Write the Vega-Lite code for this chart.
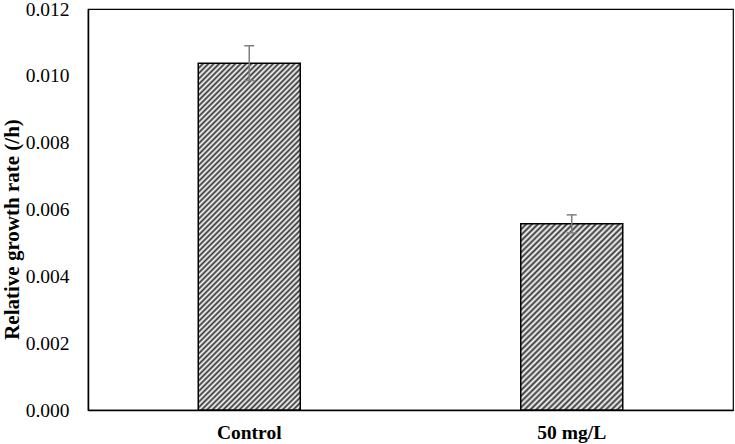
{
  "$schema": "https://vega.github.io/schema/vega-lite/v6.json",
  "width": 645,
  "height": 401,
  "autosize": {"type": "none"},
  "padding": {"left": 88, "top": 9, "right": 2, "bottom": 34},
  "background": "#ffffff",
  "config": {"view": {"stroke": "#000000", "strokeWidth": 1.2}, "font": "Liberation Serif"},
  "data": {"values": [
    {"group": "Control", "rate": 0.01038, "lower": 0.00986, "upper": 0.0109},
    {"group": "50 mg/L", "rate": 0.00557, "lower": 0.0053, "upper": 0.00584}
  ]},
  "encoding": {
    "x": {"field": "group", "type": "nominal", "sort": ["Control", "50 mg/L"],
      "scale": {"paddingInner": 0, "paddingOuter": 0},
      "axis": {"title": null, "labelAngle": 0, "labelFont": "Liberation Serif", "labelFontSize": 19.5, "labelFontWeight": "bold", "labelColor": "#000000", "labelPadding": 13, "ticks": false, "domainColor": "#000000", "domainWidth": 1.5}}
  },
  "layer": [
    {
      "transform": [{"filter": "datum.group === 'Control'"}],
      "mark": {"type": "bar", "size": 102, "stroke": "#000000", "strokeWidth": 1.5,
        "fill": {"gradient": "linear", "x1": 0, "y1": 0, "x2": 0.35, "y2": 1.191, "stops": [
{"offset":0,"color":"#333"},{"offset":0.006,"color":"#fff"},{"offset":0.012,"color":"#333"},{"offset":0.018,"color":"#fff"},{"offset":0.024,"color":"#333"},{"offset":0.03,"color":"#fff"},{"offset":0.036,"color":"#333"},{"offset":0.042,"color":"#fff"},{"offset":0.048,"color":"#333"},{"offset":0.054,"color":"#fff"},
{"offset":0.06,"color":"#333"},{"offset":0.066,"color":"#fff"},{"offset":0.072,"color":"#333"},{"offset":0.078,"color":"#fff"},{"offset":0.084,"color":"#333"},{"offset":0.09,"color":"#fff"},{"offset":0.096,"color":"#333"},{"offset":0.102,"color":"#fff"},{"offset":0.108,"color":"#333"},{"offset":0.114,"color":"#fff"},
{"offset":0.12,"color":"#333"},{"offset":0.126,"color":"#fff"},{"offset":0.132,"color":"#333"},{"offset":0.138,"color":"#fff"},{"offset":0.144,"color":"#333"},{"offset":0.15,"color":"#fff"},{"offset":0.156,"color":"#333"},{"offset":0.162,"color":"#fff"},{"offset":0.168,"color":"#333"},{"offset":0.174,"color":"#fff"},
{"offset":0.18,"color":"#333"},{"offset":0.186,"color":"#fff"},{"offset":0.192,"color":"#333"},{"offset":0.198,"color":"#fff"},{"offset":0.204,"color":"#333"},{"offset":0.21,"color":"#fff"},{"offset":0.216,"color":"#333"},{"offset":0.222,"color":"#fff"},{"offset":0.228,"color":"#333"},{"offset":0.234,"color":"#fff"},
{"offset":0.24,"color":"#333"},{"offset":0.246,"color":"#fff"},{"offset":0.252,"color":"#333"},{"offset":0.258,"color":"#fff"},{"offset":0.264,"color":"#333"},{"offset":0.27,"color":"#fff"},{"offset":0.276,"color":"#333"},{"offset":0.282,"color":"#fff"},{"offset":0.288,"color":"#333"},{"offset":0.294,"color":"#fff"},
{"offset":0.3,"color":"#333"},{"offset":0.306,"color":"#fff"},{"offset":0.312,"color":"#333"},{"offset":0.318,"color":"#fff"},{"offset":0.324,"color":"#333"},{"offset":0.33,"color":"#fff"},{"offset":0.336,"color":"#333"},{"offset":0.342,"color":"#fff"},{"offset":0.348,"color":"#333"},{"offset":0.354,"color":"#fff"},
{"offset":0.36,"color":"#333"},{"offset":0.366,"color":"#fff"},{"offset":0.372,"color":"#333"},{"offset":0.378,"color":"#fff"},{"offset":0.384,"color":"#333"},{"offset":0.39,"color":"#fff"},{"offset":0.396,"color":"#333"},{"offset":0.402,"color":"#fff"},{"offset":0.408,"color":"#333"},{"offset":0.414,"color":"#fff"},
{"offset":0.42,"color":"#333"},{"offset":0.426,"color":"#fff"},{"offset":0.432,"color":"#333"},{"offset":0.438,"color":"#fff"},{"offset":0.444,"color":"#333"},{"offset":0.45,"color":"#fff"},{"offset":0.456,"color":"#333"},{"offset":0.462,"color":"#fff"},{"offset":0.468,"color":"#333"},{"offset":0.474,"color":"#fff"},
{"offset":0.48,"color":"#333"},{"offset":0.486,"color":"#fff"},{"offset":0.492,"color":"#333"},{"offset":0.498,"color":"#fff"},{"offset":0.504,"color":"#333"},{"offset":0.51,"color":"#fff"},{"offset":0.516,"color":"#333"},{"offset":0.522,"color":"#fff"},{"offset":0.528,"color":"#333"},{"offset":0.534,"color":"#fff"},
{"offset":0.54,"color":"#333"},{"offset":0.546,"color":"#fff"},{"offset":0.552,"color":"#333"},{"offset":0.558,"color":"#fff"},{"offset":0.564,"color":"#333"},{"offset":0.57,"color":"#fff"},{"offset":0.576,"color":"#333"},{"offset":0.582,"color":"#fff"},{"offset":0.588,"color":"#333"},{"offset":0.594,"color":"#fff"},
{"offset":0.6,"color":"#333"},{"offset":0.606,"color":"#fff"},{"offset":0.612,"color":"#333"},{"offset":0.618,"color":"#fff"},{"offset":0.624,"color":"#333"},{"offset":0.63,"color":"#fff"},{"offset":0.636,"color":"#333"},{"offset":0.642,"color":"#fff"},{"offset":0.648,"color":"#333"},{"offset":0.654,"color":"#fff"},
{"offset":0.66,"color":"#333"},{"offset":0.666,"color":"#fff"},{"offset":0.672,"color":"#333"},{"offset":0.678,"color":"#fff"},{"offset":0.684,"color":"#333"},{"offset":0.69,"color":"#fff"},{"offset":0.696,"color":"#333"},{"offset":0.702,"color":"#fff"},{"offset":0.708,"color":"#333"},{"offset":0.714,"color":"#fff"},
{"offset":0.72,"color":"#333"},{"offset":0.726,"color":"#fff"},{"offset":0.732,"color":"#333"},{"offset":0.738,"color":"#fff"},{"offset":0.744,"color":"#333"},{"offset":0.75,"color":"#fff"},{"offset":0.756,"color":"#333"},{"offset":0.762,"color":"#fff"},{"offset":0.768,"color":"#333"},{"offset":0.774,"color":"#fff"},
{"offset":0.78,"color":"#333"},{"offset":0.786,"color":"#fff"},{"offset":0.792,"color":"#333"},{"offset":0.798,"color":"#fff"},{"offset":0.804,"color":"#333"},{"offset":0.81,"color":"#fff"},{"offset":0.816,"color":"#333"},{"offset":0.822,"color":"#fff"},{"offset":0.828,"color":"#333"},{"offset":0.834,"color":"#fff"},
{"offset":0.84,"color":"#333"},{"offset":0.846,"color":"#fff"},{"offset":0.852,"color":"#333"},{"offset":0.858,"color":"#fff"},{"offset":0.864,"color":"#333"},{"offset":0.87,"color":"#fff"},{"offset":0.876,"color":"#333"},{"offset":0.882,"color":"#fff"},{"offset":0.888,"color":"#333"},{"offset":0.894,"color":"#fff"},
{"offset":0.9,"color":"#333"},{"offset":0.906,"color":"#fff"},{"offset":0.912,"color":"#333"},{"offset":0.918,"color":"#fff"},{"offset":0.924,"color":"#333"},{"offset":0.93,"color":"#fff"},{"offset":0.936,"color":"#333"},{"offset":0.942,"color":"#fff"},{"offset":0.948,"color":"#333"},{"offset":0.954,"color":"#fff"},
{"offset":0.96,"color":"#333"},{"offset":0.966,"color":"#fff"},{"offset":0.972,"color":"#333"},{"offset":0.978,"color":"#fff"},{"offset":0.984,"color":"#333"},{"offset":0.99,"color":"#fff"},{"offset":0.996,"color":"#333"},{"offset":1,"color":"#fff"}
        ]}},
      "encoding": {
        "y": {"field": "rate", "type": "quantitative", "scale": {"domain": [0, 0.012]},
          "axis": {"title": "Relative growth rate (/h)", "values": [0, 0.002, 0.004, 0.006, 0.008, 0.01, 0.012], "format": ".3f", "grid": false, "ticks": false,
            "labelFont": "Liberation Serif", "labelFontSize": 19.5, "labelColor": "#000000", "labelPadding": 19,
            "domainColor": "#000000", "domainWidth": 1.5,
            "titleFont": "Liberation Serif", "titleFontSize": 21, "titleFontWeight": "bold", "titleColor": "#000000",
            "titleX": -76, "titleY": 220, "titleAngle": 270, "titleAlign": "center", "titleBaseline": "middle"}}
      }
    },
    {
      "transform": [{"filter": "datum.group === '50 mg/L'"}],
      "mark": {"type": "bar", "size": 102, "stroke": "#000000", "strokeWidth": 1.5,
        "fill": {"gradient": "linear", "x1": 0, "y1": 0, "x2": 0.647, "y2": 1.192, "stops": [
{"offset":0,"color":"#333"},{"offset":0.01,"color":"#fff"},{"offset":0.02,"color":"#333"},{"offset":0.03,"color":"#fff"},{"offset":0.04,"color":"#333"},{"offset":0.05,"color":"#fff"},{"offset":0.06,"color":"#333"},{"offset":0.07,"color":"#fff"},{"offset":0.08,"color":"#333"},{"offset":0.09,"color":"#fff"},
{"offset":0.1,"color":"#333"},{"offset":0.11,"color":"#fff"},{"offset":0.12,"color":"#333"},{"offset":0.13,"color":"#fff"},{"offset":0.14,"color":"#333"},{"offset":0.15,"color":"#fff"},{"offset":0.16,"color":"#333"},{"offset":0.17,"color":"#fff"},{"offset":0.18,"color":"#333"},{"offset":0.19,"color":"#fff"},
{"offset":0.2,"color":"#333"},{"offset":0.21,"color":"#fff"},{"offset":0.22,"color":"#333"},{"offset":0.23,"color":"#fff"},{"offset":0.24,"color":"#333"},{"offset":0.25,"color":"#fff"},{"offset":0.26,"color":"#333"},{"offset":0.27,"color":"#fff"},{"offset":0.28,"color":"#333"},{"offset":0.29,"color":"#fff"},
{"offset":0.3,"color":"#333"},{"offset":0.31,"color":"#fff"},{"offset":0.32,"color":"#333"},{"offset":0.33,"color":"#fff"},{"offset":0.34,"color":"#333"},{"offset":0.35,"color":"#fff"},{"offset":0.36,"color":"#333"},{"offset":0.37,"color":"#fff"},{"offset":0.38,"color":"#333"},{"offset":0.39,"color":"#fff"},
{"offset":0.4,"color":"#333"},{"offset":0.41,"color":"#fff"},{"offset":0.42,"color":"#333"},{"offset":0.43,"color":"#fff"},{"offset":0.44,"color":"#333"},{"offset":0.45,"color":"#fff"},{"offset":0.46,"color":"#333"},{"offset":0.47,"color":"#fff"},{"offset":0.48,"color":"#333"},{"offset":0.49,"color":"#fff"},
{"offset":0.5,"color":"#333"},{"offset":0.51,"color":"#fff"},{"offset":0.52,"color":"#333"},{"offset":0.53,"color":"#fff"},{"offset":0.54,"color":"#333"},{"offset":0.55,"color":"#fff"},{"offset":0.56,"color":"#333"},{"offset":0.57,"color":"#fff"},{"offset":0.58,"color":"#333"},{"offset":0.59,"color":"#fff"},
{"offset":0.6,"color":"#333"},{"offset":0.61,"color":"#fff"},{"offset":0.62,"color":"#333"},{"offset":0.63,"color":"#fff"},{"offset":0.64,"color":"#333"},{"offset":0.65,"color":"#fff"},{"offset":0.66,"color":"#333"},{"offset":0.67,"color":"#fff"},{"offset":0.68,"color":"#333"},{"offset":0.69,"color":"#fff"},
{"offset":0.7,"color":"#333"},{"offset":0.71,"color":"#fff"},{"offset":0.72,"color":"#333"},{"offset":0.73,"color":"#fff"},{"offset":0.74,"color":"#333"},{"offset":0.75,"color":"#fff"},{"offset":0.76,"color":"#333"},{"offset":0.77,"color":"#fff"},{"offset":0.78,"color":"#333"},{"offset":0.79,"color":"#fff"},
{"offset":0.8,"color":"#333"},{"offset":0.81,"color":"#fff"},{"offset":0.82,"color":"#333"},{"offset":0.83,"color":"#fff"},{"offset":0.84,"color":"#333"},{"offset":0.85,"color":"#fff"},{"offset":0.86,"color":"#333"},{"offset":0.87,"color":"#fff"},{"offset":0.88,"color":"#333"},{"offset":0.89,"color":"#fff"},
{"offset":0.9,"color":"#333"},{"offset":0.91,"color":"#fff"},{"offset":0.92,"color":"#333"},{"offset":0.93,"color":"#fff"},{"offset":0.94,"color":"#333"},{"offset":0.95,"color":"#fff"},{"offset":0.96,"color":"#333"},{"offset":0.97,"color":"#fff"},{"offset":0.98,"color":"#333"},{"offset":0.99,"color":"#fff"},{"offset":1,"color":"#333"}
        ]}},
      "encoding": {
        "y": {"field": "rate", "type": "quantitative"}
      }
    },
    {
      "mark": {"type": "rule", "color": "#7f7f7f", "strokeWidth": 1.5},
      "encoding": {
        "y": {"field": "lower", "type": "quantitative", "title": "Relative growth rate (/h)"},
        "y2": {"field": "upper"}
      }
    },
    {
      "mark": {"type": "tick", "color": "#7f7f7f", "size": 10, "thickness": 1.5, "opacity": 1},
      "encoding": {
        "y": {"field": "upper", "type": "quantitative", "title": "Relative growth rate (/h)"}
      }
    },
    {
      "mark": {"type": "tick", "color": "#7f7f7f", "size": 10, "thickness": 1.5, "opacity": 1},
      "encoding": {
        "y": {"field": "lower", "type": "quantitative", "title": "Relative growth rate (/h)"}
      }
    }
  ]
}
